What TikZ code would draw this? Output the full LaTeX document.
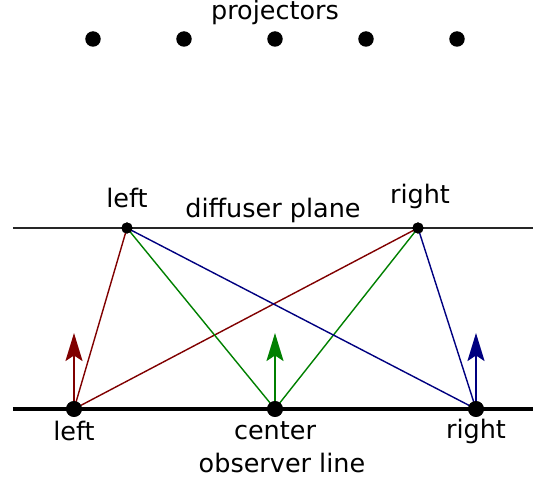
\documentclass[tikz,border=0pt]{standalone}
\usepackage{fontspec}
\setmainfont{DejaVu Sans}
\usetikzlibrary{arrows.meta,positioning}
\definecolor{wine}{RGB}{128,0,0}
\definecolor{leaf}{RGB}{0,128,0}
\definecolor{navy}{RGB}{0,0,128}
\tikzset{
  >={Stealth[length=5.6mm,width=3.4mm,inset=1.1mm]},
  dot/.style={circle,fill=black,inner sep=0pt,minimum size=#1},
  dot/.default=3.1mm,
  ray/.style={draw=#1,line width=0.8pt},
  up/.style={->,draw=#1,fill=#1,line width=1.2pt},
  lbl/.style={font=\fontsize{14.5}{16}\selectfont,inner sep=0pt},
}
\begin{document}
\begin{tikzpicture}[x=0.2mm,y=-0.2mm]
    \useasboundingbox (0,0) rectangle (537,477);
    % projectors
    \foreach \x [count=\i] in {93,184,275,366,457}
      \node[dot] (p\i) at (\x,39) {};
    \node[lbl] (ptxt) at (275,12) {projectors};
    % diffuser plane
    \draw[line width=0.8pt,black!85] (13,228) -- (533,228);
    \node[dot=2.2mm] (dl) at (127,228) {};
    \node[dot=2.2mm] (dr) at (418,228) {};
    \node[lbl] (dltxt) at (127,198) {left};
    \node[lbl] (drtxt) at (420,196) {right};
    \node[lbl] (dtxt) at (273,210) {diffuser plane};
    % observer line
    \draw[line width=2pt] (13,409) -- (533,409);
    \node[dot] (ol) at (74,409) {};
    \node[dot] (oc) at (275,409) {};
    \node[dot] (or) at (476,409) {};
    \node[lbl] (oltxt) at (74,431) {left};
    \node[lbl] (octxt) at (275,431) {center};
    \node[lbl] (ortxt) at (476,431) {right};
    \node[lbl] (otxt) at (282,463) {observer line};
    % rays
    \foreach \o/\c in {ol/wine,oc/leaf,or/navy}{
      \draw[ray=\c] (\o.center) -- (dl.center);
      \draw[ray=\c] (\o.center) -- (dr.center);
    }
    % viewing directions
    \foreach \o/\c/\x in {ol/wine/74,oc/leaf/275,or/navy/476}{
      \coordinate (\o-top) at (\x,333);
      \draw[up=\c] (\o.center) -- (\o-top);
    }
    % redraw dots on top
    \foreach \n in {ol,oc,or} \fill (\n) circle (8);
    \foreach \n in {dl,dr} \fill (\n) circle (5.6);
\end{tikzpicture}
\end{document}
